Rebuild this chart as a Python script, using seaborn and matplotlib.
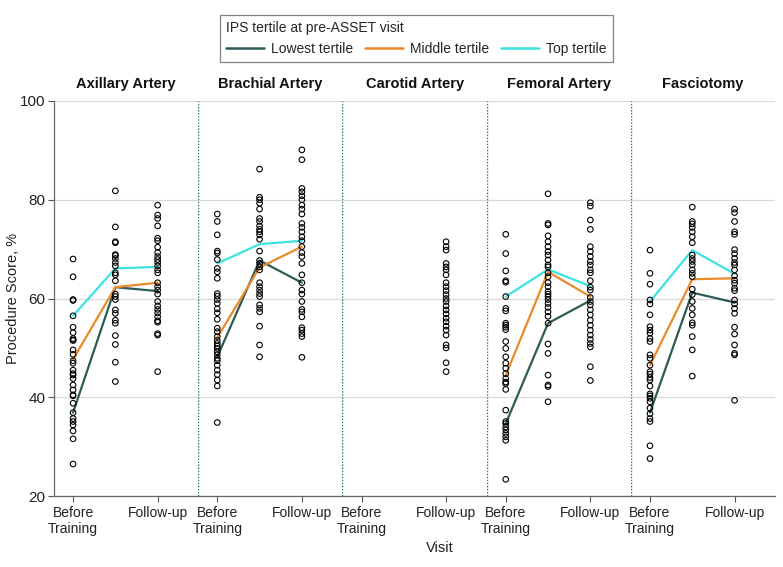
import matplotlib
matplotlib.use("Agg")
import matplotlib.pyplot as plt
from matplotlib.lines import Line2D
import seaborn as sns
import pandas as pd

# Panels and visits
panels = ["Axillary Artery", "Brachial Artery", "Carotid Artery", "Femoral Artery", "Fasciotomy"]
visits = ["Before Training", "Post Training", "Follow-up"]
tertiles = ["Lowest tertile", "Middle tertile", "Top tertile"]

# Individual procedure scores (%), per panel and visit
axillary_before = [68.0, 64.4, 59.8, 59.6, 56.5, 54.2, 53.1, 51.9, 51.6, 51.5, 49.6, 48.7, 47.4, 46.9, 45.5,
                   44.8, 44.5, 43.8, 42.5, 41.5, 40.5, 40.3, 38.8, 36.9, 35.7, 35.1, 34.4, 33.2, 31.6, 26.5]
axillary_post = [81.8, 74.5, 71.5, 71.3, 68.9, 68.7, 68.1, 67.3, 66.6, 65.2, 64.8, 63.6, 60.9, 60.4, 59.8,
                 57.7, 57.0, 55.6, 55.0, 52.5, 50.7, 47.1, 43.2]
axillary_follow = [78.9, 76.9, 76.2, 74.7, 72.2, 71.7, 70.4, 69.3, 68.5, 67.9, 67.3, 66.6, 65.8, 65.2, 63.2,
                   62.4, 61.7, 60.9, 59.4, 58.5, 57.8, 57.1, 56.3, 55.5, 55.2, 52.9, 52.6, 45.2]

brachial_before = [77.1, 75.6, 72.9, 69.6, 69.2, 67.9, 66.1, 65.4, 64.1, 61.0, 60.5, 59.8, 59.0, 57.9, 57.1,
                   55.8, 54.0, 53.3, 52.3, 51.5, 50.9, 50.4, 49.9, 49.2, 48.6, 47.9, 47.4, 46.5, 45.5, 44.6,
                   43.5, 42.3, 34.9]
brachial_post = [86.2, 80.5, 80.0, 79.3, 78.1, 76.2, 75.6, 74.7, 74.0, 73.5, 72.9, 72.0, 69.6, 67.7, 67.1,
                 66.4, 65.8, 63.2, 62.4, 61.7, 61.0, 60.4, 58.7, 58.0, 57.3, 54.4, 50.6, 48.2]
brachial_follow = [90.1, 88.1, 82.3, 81.6, 80.8, 80.0, 78.9, 78.1, 77.1, 75.2, 74.4, 73.5, 72.5, 71.7, 70.5,
                   69.3, 68.5, 67.1, 64.8, 63.2, 61.7, 60.9, 59.4, 57.8, 57.3, 56.3, 54.1, 53.6, 52.9, 52.3,
                   48.1]

carotid_before = []
carotid_post = []
carotid_follow = [71.5, 70.5, 69.8, 67.1, 66.4, 65.8, 64.8, 63.2, 62.4, 61.6, 60.8, 60.0, 59.4, 58.5, 57.7,
                  56.9, 56.0, 55.3, 54.4, 53.6, 52.6, 50.6, 50.0, 47.0, 45.2]

femoral_before = [73.0, 69.1, 65.6, 63.6, 63.3, 60.4, 58.0, 57.5, 55.0, 54.6, 54.2, 53.7, 51.3, 49.9, 48.2,
                  46.9, 45.9, 44.8, 43.8, 43.1, 42.8, 41.6, 37.4, 35.1, 34.7, 34.0, 33.4, 32.7, 32.0, 31.3,
                  23.4]
femoral_post = [81.2, 75.2, 74.9, 72.7, 71.5, 70.5, 69.5, 68.8, 67.8, 66.8, 66.4, 65.2, 64.4, 63.2, 62.4,
                61.4, 60.9, 60.4, 59.8, 59.0, 58.2, 57.3, 56.4, 55.0, 50.8, 48.9, 44.5, 42.5, 42.2, 39.1]
femoral_follow = [79.4, 78.7, 75.9, 74.0, 70.5, 69.5, 68.5, 67.5, 66.8, 65.8, 65.2, 63.6, 62.3, 61.7, 60.2,
                  59.4, 58.7, 57.7, 56.7, 55.6, 54.6, 53.6, 52.6, 51.7, 50.9, 50.2, 46.2, 43.4]

fasciotomy_before = [69.8, 65.1, 62.9, 59.7, 58.9, 56.7, 54.3, 53.6, 53.0, 51.9, 51.3, 48.6, 47.9, 46.5, 45.2,
                     44.7, 44.0, 43.5, 42.3, 40.7, 40.3, 39.8, 39.1, 37.8, 36.7, 35.7, 35.1, 30.2, 27.6]
fasciotomy_post = [78.5, 75.6, 75.1, 74.4, 73.5, 72.5, 71.3, 68.8, 68.1, 67.5, 66.8, 65.8, 65.1, 64.4, 61.9,
                   60.8, 59.4, 58.0, 56.7, 55.1, 54.6, 52.3, 49.6, 44.3]
fasciotomy_follow = [78.1, 77.4, 75.6, 73.5, 73.0, 69.9, 69.1, 68.1, 67.3, 66.8, 65.8, 64.6, 63.7, 63.1, 62.1,
                     61.6, 59.7, 58.9, 58.0, 57.0, 54.2, 52.8, 50.6, 48.9, 48.6, 39.4]

# Tertile mean lines (before, post, follow-up) per panel: lowest, middle, top
axillary_means = [[36.9, 62.3, 61.5], [47.7, 62.3, 63.2], [56.5, 66.1, 66.4]]
brachial_means = [[48.2, 67.7, 63.2], [52.1, 66.3, 70.5], [67.1, 71.0, 71.7]]
carotid_means = [[], [], []]
femoral_means = [[34.7, 55.0, 59.6], [44.5, 65.4, 60.4], [60.4, 65.9, 62.5]]
fasciotomy_means = [[36.9, 61.2, 59.2], [46.5, 63.9, 64.1], [59.4, 69.8, 65.0]]

points = {
    "Axillary Artery": [axillary_before, axillary_post, axillary_follow],
    "Brachial Artery": [brachial_before, brachial_post, brachial_follow],
    "Carotid Artery": [carotid_before, carotid_post, carotid_follow],
    "Femoral Artery": [femoral_before, femoral_post, femoral_follow],
    "Fasciotomy": [fasciotomy_before, fasciotomy_post, fasciotomy_follow],
}
means = {
    "Axillary Artery": axillary_means,
    "Brachial Artery": brachial_means,
    "Carotid Artery": carotid_means,
    "Femoral Artery": femoral_means,
    "Fasciotomy": fasciotomy_means,
}

# Long tables for seaborn
pt_rows = []
for p in panels:
    for vi, vals in enumerate(points[p]):
        for v in vals:
            pt_rows.append({"Panel": p, "Visit": vi, "Score": v})
pts_df = pd.DataFrame(pt_rows)

ln_rows = []
for p in panels:
    for ti, series in enumerate(means[p]):
        for vi, v in enumerate(series):
            ln_rows.append({"Panel": p, "Visit": vi, "Score": v, "Tertile": tertiles[ti]})
lines_df = pd.DataFrame(ln_rows)

tertile_colors = {"Lowest tertile": "#2c5c58", "Middle tertile": "#ec8a2a", "Top tertile": "#3de3e3"}

sns.set_theme(style="ticks")
plt.rcParams["font.family"] = ["Liberation Sans", "DejaVu Sans"]

fig, axes = plt.subplots(1, 5, figsize=(7.83, 5.67), dpi=100)
fig.subplots_adjust(left=0.069, right=0.99, bottom=0.125, top=0.822, wspace=0)

for i, (ax, p) in enumerate(zip(axes, panels)):
    ax.set_axisbelow(True)
    ax.yaxis.grid(True, color="#d9d9d9", linewidth=0.9)
    sub_l = lines_df[lines_df["Panel"] == p]
    if len(sub_l):
        sns.lineplot(data=sub_l, x="Visit", y="Score", hue="Tertile", palette=tertile_colors,
                     linewidth=1.6, ax=ax, legend=False, zorder=2)
    sub_p = pts_df[pts_df["Panel"] == p]
    sns.scatterplot(data=sub_p, x="Visit", y="Score", ax=ax, s=16, facecolor="none",
                    edgecolor="black", linewidth=0.8, zorder=3)
    ax.set_xlim(-0.45, 2.96)
    ax.set_ylim(20, 100)
    ax.set_xticks([0, 2])
    ax.set_xticklabels(["Before\nTraining", "Follow-up"], fontsize=10, color="#222222")
    ax.set_yticks([20, 40, 60, 80, 100])
    ax.tick_params(axis="x", length=4, width=0.8, color="#555555", pad=3)
    ax.set_xlabel("")
    ax.set_ylabel("")
    ax.set_title(p, fontsize=10.5, fontweight="bold", pad=9, color="#111111")
    for s in ["top", "right"]:
        ax.spines[s].set_visible(False)
    ax.spines["bottom"].set_color("#666666")
    ax.spines["bottom"].set_linewidth(0.9)
    if i == 0:
        ax.spines["left"].set_color("#666666")
        ax.spines["left"].set_linewidth(0.9)
        ax.tick_params(axis="y", length=4, width=0.8, color="#555555",
                       labelsize=11, pad=2, labelcolor="#222222")
    else:
        # dotted separator between panels
        ax.spines["left"].set_visible(False)
        ax.axvline(-0.45, color="#2f6b66", linestyle=(0, (1, 1.2)), linewidth=1.0, zorder=1)
        ax.tick_params(axis="y", left=False, labelleft=False)

fig.text(13 / 783, 1 - 298 / 567, "Procedure Score, %", rotation=90, ha="center", va="center",
         fontsize=10.5, color="#222222")
fig.text(440 / 783, 1 - 548 / 567, "Visit", ha="center", va="center", fontsize=10.5, color="#222222")

handles = [Line2D([0], [0], color=tertile_colors[t], linewidth=1.8) for t in tertiles]
leg = fig.legend(handles, tertiles, ncol=3, title="IPS tertile at pre-ASSET visit",
                 loc="upper left", bbox_to_anchor=(0.281, 0.9735), borderaxespad=0,
                 fontsize=10, title_fontsize=10,
                 frameon=True, fancybox=False, edgecolor="#666666", handlelength=2.7,
                 handletextpad=0.5, columnspacing=0.9, borderpad=0.45, alignment="left")
leg.get_frame().set_linewidth(0.9)

plt.savefig("out.png", dpi=100)
